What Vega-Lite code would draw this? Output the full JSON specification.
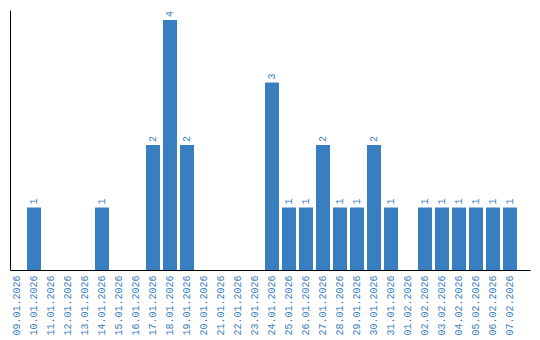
{
  "$schema": "https://vega.github.io/schema/vega-lite/v6.json",
  "width": 520,
  "height": 260,
  "autosize": "none",
  "padding": {"left": 10, "top": 10, "right": 10, "bottom": 70},
  "background": "white",
  "config": {"view": {"stroke": null}},
  "data": {"values": [
    {"date": "09.01.2026", "count": 0},
    {"date": "10.01.2026", "count": 1},
    {"date": "11.01.2026", "count": 0},
    {"date": "12.01.2026", "count": 0},
    {"date": "13.01.2026", "count": 0},
    {"date": "14.01.2026", "count": 1},
    {"date": "15.01.2026", "count": 0},
    {"date": "16.01.2026", "count": 0},
    {"date": "17.01.2026", "count": 2},
    {"date": "18.01.2026", "count": 4},
    {"date": "19.01.2026", "count": 2},
    {"date": "20.01.2026", "count": 0},
    {"date": "21.01.2026", "count": 0},
    {"date": "22.01.2026", "count": 0},
    {"date": "23.01.2026", "count": 0},
    {"date": "24.01.2026", "count": 3},
    {"date": "25.01.2026", "count": 1},
    {"date": "26.01.2026", "count": 1},
    {"date": "27.01.2026", "count": 2},
    {"date": "28.01.2026", "count": 1},
    {"date": "29.01.2026", "count": 1},
    {"date": "30.01.2026", "count": 2},
    {"date": "31.01.2026", "count": 1},
    {"date": "01.02.2026", "count": 0},
    {"date": "02.02.2026", "count": 1},
    {"date": "03.02.2026", "count": 1},
    {"date": "04.02.2026", "count": 1},
    {"date": "05.02.2026", "count": 1},
    {"date": "06.02.2026", "count": 1},
    {"date": "07.02.2026", "count": 1}
  ]},
  "encoding": {
    "x": {
      "field": "date", "type": "nominal", "sort": null,
      "scale": {"paddingInner": 0.176, "paddingOuter": 0.382, "align": 0},
      "axis": {
        "title": null, "labelAngle": -90, "labelAlign": "right", "labelBaseline": "middle",
        "labelFont": "Liberation Mono", "labelFontSize": 10, "labelColor": "#3a7ec2",
        "ticks": false, "labelPadding": 5, "domainColor": "#000000", "domainWidth": 1
      }
    },
    "y": {
      "field": "count", "type": "quantitative",
      "scale": {"domain": [0, 4.16], "nice": false},
      "axis": {"title": null, "labels": false, "ticks": false, "grid": false, "domainColor": "#000000", "domainWidth": 1}
    }
  },
  "layer": [
    {"mark": {"type": "bar", "color": "#3a7ec2"}},
    {
      "transform": [{"filter": "datum.count > 0"}],
      "mark": {"type": "text", "angle": 270, "align": "left", "baseline": "middle", "dx": 3, "font": "Liberation Mono", "fontSize": 10, "color": "#3a7ec2"},
      "encoding": {"text": {"field": "count", "type": "quantitative"}}
    }
  ]
}
